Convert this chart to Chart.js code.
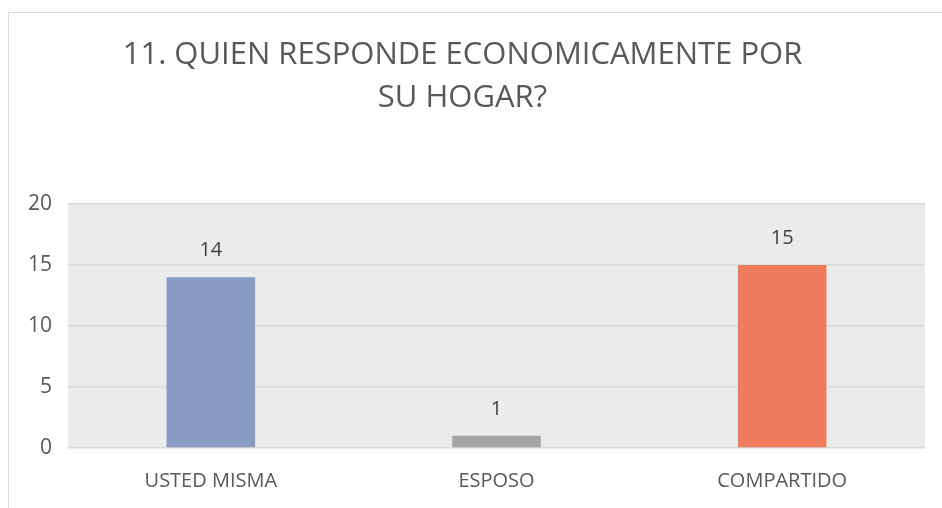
<!DOCTYPE html>
<html><head><meta charset="utf-8">
<script src="https://cdn.jsdelivr.net/npm/chart.js@4/dist/chart.umd.min.js"></script>
<style>
html,body{margin:0;padding:0;background:#fff;}
#wrap{position:relative;width:942px;height:508px;}
#frame{position:absolute;left:8px;top:12px;width:960px;height:520px;border:1px solid #d9d9d9;pointer-events:none;}
canvas{position:absolute;left:0;top:0;}
</style></head>
<body><div id="wrap"><canvas id="c" width="942" height="508"></canvas><div id="frame"></div></div>
<script>
const categories = ["USTED MISMA", "ESPOSO", "COMPARTIDO"];
const values = [14, 1, 15];
const barColors = ["#889bc4", "#a5a5a5", "#ee7c5c"];
const titleLines = ["11. QUIEN RESPONDE ECONOMICAMENTE POR", "SU HOGAR?"];
const yTicks = [0, 5, 10, 15, 20];

const FONT = "'Open Sans', sans-serif";

const plotBg = {
  id: 'plotBg',
  beforeDraw(chart) {
    const {ctx, chartArea: a} = chart;
    ctx.save(); ctx.fillStyle = '#ebebeb';
    ctx.fillRect(a.left, a.top, a.right - a.left, a.bottom - a.top);
    ctx.restore();
  }
};
const valueLabels = {
  id: 'valueLabels',
  afterDatasetsDraw(chart) {
    const {ctx} = chart;
    const meta = chart.getDatasetMeta(0);
    ctx.save();
    ctx.fillStyle = '#404040';
    ctx.font = "20px " + FONT;
    ctx.textAlign = 'center'; ctx.textBaseline = 'middle';
    meta.data.forEach((el, i) => {
      ctx.fillText(String(values[i]), el.x, el.y - 27);
    });
    ctx.restore();
  }
};

new Chart(document.getElementById('c'), {
  type: 'bar',
  data: { labels: categories, datasets: [{ data: values, backgroundColor: barColors, categoryPercentage: 1, barPercentage: 0.31 }] },
  options: {
    responsive: false, animation: false, devicePixelRatio: 1,
    layout: { padding: { left: 0, right: 17, top: 0, bottom: 0 } },
    plugins: {
      legend: { display: false }, tooltip: { enabled: false },
      title: { display: true, text: titleLines, color: '#595959',
        font: { family: FONT, size: 31, weight: 'normal', lineHeight: 43/31 },
        padding: { top: 33.5, bottom: 84.5 } }
    },
    scales: {
      x: {
        grid: { display: false }, border: { display: false },
        ticks: { color: '#595959', font: { family: FONT, size: 20 }, padding: 13 },
        afterFit(s) { s.height = 60; }
      },
      y: {
        min: 0, max: 20,
        afterBuildTicks(s) { s.ticks = yTicks.map(v => ({ value: v })); },
        grid: { color: '#d9d9d9', lineWidth: 1.5, drawTicks: false }, border: { display: false },
        ticks: { color: '#595959', font: { family: FONT, size: 21 }, padding: 16 },
        afterFit(s) { s.width = 68; }
      }
    }
  },
  plugins: [plotBg, valueLabels]
});
</script></body></html>
